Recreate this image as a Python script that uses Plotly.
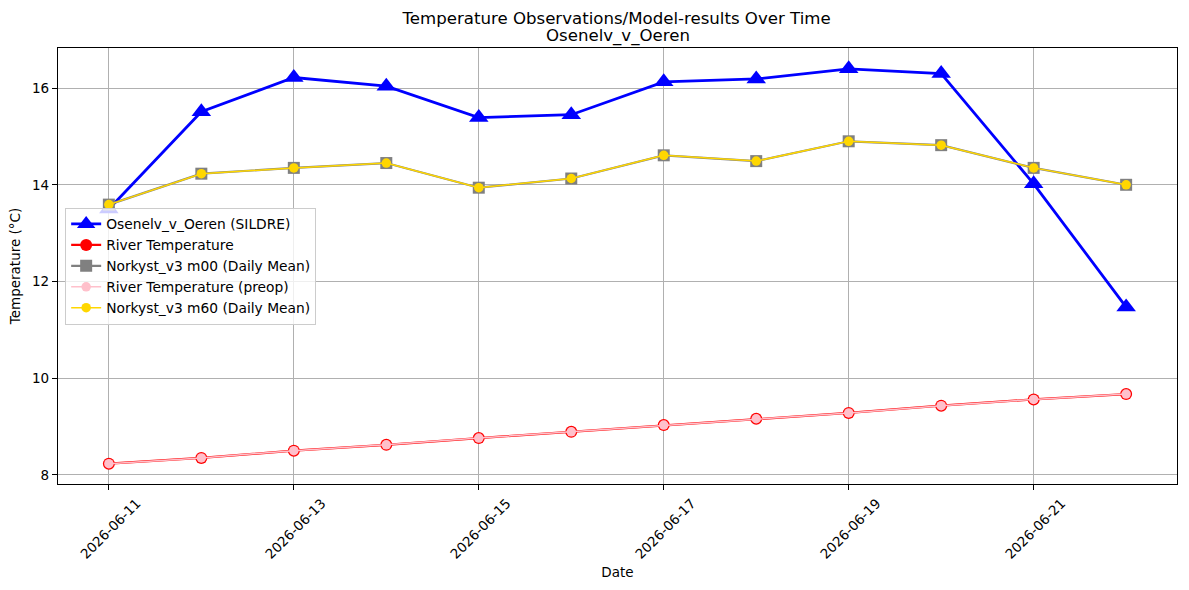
import plotly.graph_objects as go

dates = ["2026-06-11", "2026-06-12", "2026-06-13", "2026-06-14", "2026-06-15", "2026-06-16",
         "2026-06-17", "2026-06-18", "2026-06-19", "2026-06-20", "2026-06-21", "2026-06-22"]
sildre = [13.50, 15.51, 16.22, 16.04, 15.39, 15.45, 16.13, 16.19, 16.40, 16.30, 14.02, 11.47]
river = [8.23, 8.35, 8.50, 8.62, 8.76, 8.89, 9.03, 9.16, 9.28, 9.43, 9.56, 9.67]
m00 = [13.59, 14.23, 14.35, 14.45, 13.94, 14.13, 14.61, 14.49, 14.90, 14.82, 14.35, 14.00]
river_preop = river[:]
m60 = m00[:]
tick_dates = ["2026-06-11", "2026-06-13", "2026-06-15", "2026-06-17", "2026-06-19", "2026-06-21"]
y_ticks = [8, 10, 12, 14, 16]
title_line1 = "Temperature Observations/Model-results Over Time"
title_line2 = "Osenelv_v_Oeren"

FONT = "DejaVu Sans"

fig = go.Figure()
fig.add_trace(go.Scatter(x=dates, y=sildre, mode="lines+markers", name="Osenelv_v_Oeren (SILDRE)",
                         line=dict(color="#0000FF", width=2.8),
                         marker=dict(symbol="triangle-up", size=17, color="#0000FF")))
fig.add_trace(go.Scatter(x=dates, y=river, mode="lines+markers", name="River Temperature",
                         line=dict(color="#FF0000", width=2.2),
                         marker=dict(symbol="circle", size=12, color="#FF0000")))
fig.add_trace(go.Scatter(x=dates, y=m00, mode="lines+markers", name="Norkyst_v3 m00 (Daily Mean)",
                         line=dict(color="#808080", width=2.2),
                         marker=dict(symbol="square", size=12, color="#808080")))
fig.add_trace(go.Scatter(x=dates, y=river_preop, mode="lines+markers", name="River Temperature (preop)",
                         line=dict(color="#FFC0CB", width=1.5),
                         marker=dict(symbol="circle", size=9.5, color="#FFC0CB")))
fig.add_trace(go.Scatter(x=dates, y=m60, mode="lines+markers", name="Norkyst_v3 m60 (Daily Mean)",
                         line=dict(color="#FFD700", width=1.5),
                         marker=dict(symbol="circle", size=9.5, color="#FFD700")))

fig.update_layout(
    width=1189, height=590,
    margin=dict(l=57.5, r=12, t=48, b=105.7),
    paper_bgcolor="white", plot_bgcolor="white",
    font=dict(family=FONT, size=13.5, color="black"),
    title=dict(text=title_line1,
               x=0.5186, xanchor="center", yref="container", y=1 - 18.5 / 590, yanchor="middle",
               font=dict(family=FONT, size=16.6, color="black")),
    annotations=[dict(text=title_line2, xref="paper", yref="paper", x=0.5, y=1 + (48 - 35.5) / 436.3,
                      xanchor="center", yanchor="middle", showarrow=False,
                      font=dict(family=FONT, size=16.6, color="black"))],
    showlegend=True,
    legend=dict(x=0.0064, y=0.5, xanchor="left", yanchor="middle",
                bgcolor="rgba(255,255,255,0.8)", bordercolor="#cccccc", borderwidth=1,
                font=dict(family=FONT, size=13.8), tracegroupgap=0, itemwidth=30),
)
fig.update_xaxes(
    type="date",
    range=["2026-06-10 10:48", "2026-06-22 13:12"],
    tickvals=tick_dates, ticktext=tick_dates,
    tickangle=-45, ticklabelshift=28,
    showgrid=True, gridcolor="#b0b0b0", gridwidth=1,
    showline=True, linecolor="black", linewidth=1.2, mirror=True,
    ticks="outside", ticklen=5, tickcolor="black",
    title=dict(text="Date", font=dict(family=FONT, size=13.5), standoff=6),
    zeroline=False,
)
fig.update_yaxes(
    range=[7.81, 16.83],
    tickvals=y_ticks,
    showgrid=True, gridcolor="#b0b0b0", gridwidth=1,
    showline=True, linecolor="black", linewidth=1.2, mirror=True,
    ticks="outside", ticklen=5, tickcolor="black",
    title=dict(text="Temperature (°C)", font=dict(family=FONT, size=13.5), standoff=8),
    zeroline=False,
)

fig.write_html("out.html")
